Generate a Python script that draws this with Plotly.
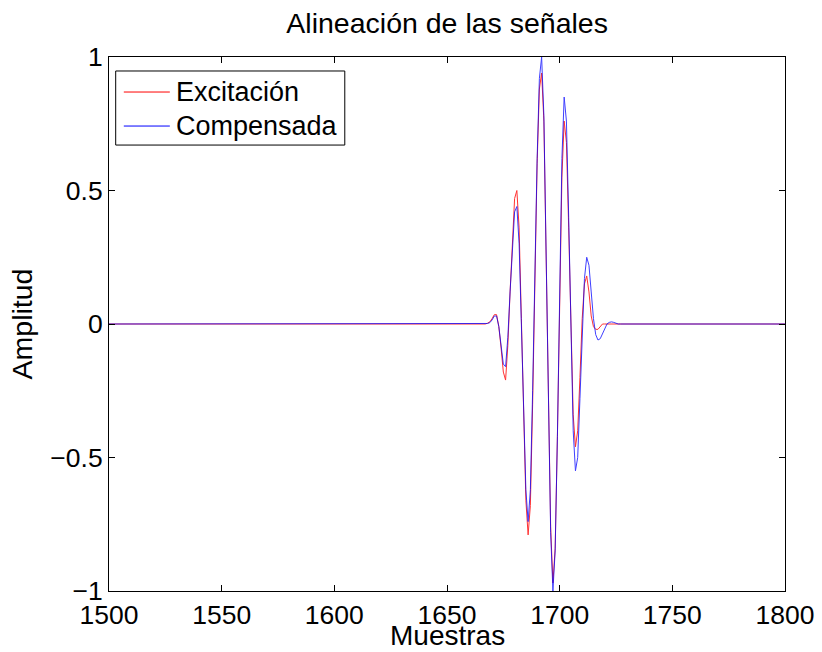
import plotly.graph_objects as go

# Sample indices (zero outside the active region)
x_exc = [1500] + list(range(1665, 1722)) + [1800]
y_exc = [0.0,
         0.0, 0.0, 0.0, 0.003, 0.008, 0.02, 0.035, 0.035, -0.01, -0.09,
         -0.18, -0.21, -0.08, 0.12, 0.32, 0.47, 0.50, 0.36, 0.02, -0.36,
         -0.66, -0.79, -0.68, -0.30, 0.18, 0.60, 0.88, 0.94, 0.76, 0.30,
         -0.27, -0.76, -0.97, -0.84, -0.42, 0.10, 0.55, 0.76, 0.68, 0.36,
         -0.04, -0.34, -0.46, -0.40, -0.20, 0.02, 0.15, 0.18, 0.12, 0.03,
         -0.01, -0.02, -0.02, -0.01, 0.0, 0.0, 0.0,
         0.0]

x_comp = [1500] + list(range(1665, 1730)) + [1800]
y_comp = [0.0,
          0.0, 0.0, 0.0, 0.002, 0.005, 0.015, 0.03, 0.03, -0.01, -0.08,
          -0.15, -0.16, -0.05, 0.12, 0.30, 0.42, 0.44, 0.30, 0.00, -0.35,
          -0.62, -0.74, -0.62, -0.25, 0.20, 0.62, 0.92, 1.00, 0.78, 0.30,
          -0.28, -0.78, -1.00, -0.85, -0.42, 0.15, 0.62, 0.85, 0.76, 0.40,
          -0.05, -0.40, -0.55, -0.50, -0.28, -0.02, 0.17, 0.25, 0.22, 0.12,
          0.02, -0.04, -0.06, -0.055, -0.035, -0.015, 0.0, 0.006, 0.008, 0.006,
          0.003, 0.0, 0.0, 0.0, 0.0,
          0.0]

series_names = ["Excitación", "Compensada"]
series_colors = ["#ff0000", "#0000ff"]

x_ticks = [1500, 1550, 1600, 1650, 1700, 1750, 1800]
y_ticks = [-1, -0.5, 0, 0.5, 1]
y_tick_text = ["\u22121", "\u22120.5", "0", "0.5", "1"]

FONT = "Liberation Sans, Arial, sans-serif"

fig = go.Figure()
fig.add_trace(go.Scatter(x=x_exc, y=y_exc, mode="lines", name=series_names[0],
                         line=dict(color=series_colors[0], width=1), opacity=0.8))
fig.add_trace(go.Scatter(x=x_comp, y=y_comp, mode="lines", name=series_names[1],
                         line=dict(color=series_colors[1], width=1), opacity=0.75))

# MATLAB-style boxed legend drawn in the axes' paper frame
shapes = [dict(type="rect", xref="paper", yref="paper",
               x0=0.0099, x1=0.3488, y0=0.8351, y1=0.9738,
               line=dict(color="black", width=1), fillcolor="white", layer="above")]
annotations = []
for i, (nm, col) in enumerate(zip(series_names, series_colors)):
    yy = 0.9344 - i * 0.0637
    shapes.append(dict(type="line", xref="paper", yref="paper",
                       x0=0.0219, x1=0.0900, y0=yy, y1=yy,
                       line=dict(color=col, width=1), layer="above"))
    annotations.append(dict(text=nm, xref="paper", yref="paper", x=0.0960, y=yy,
                            xanchor="left", yanchor="middle", showarrow=False,
                            font=dict(size=27, color="black")))

# x-axis title placed just below the tick labels
annotations.append(dict(text="Muestras", xref="paper", yref="paper", x=0.5, y=-0.083,
                        xanchor="center", yanchor="middle", showarrow=False,
                        borderpad=0, font=dict(size=28, color="black")))

fig.update_layout(
    width=822, height=652,
    margin=dict(l=109, r=37, t=57, b=61),
    paper_bgcolor="white", plot_bgcolor="white",
    font=dict(family=FONT, size=27, color="black"),
    title=dict(text="Alineación de las señales", x=0.544, xanchor="center",
               y=0.964, yanchor="middle", font=dict(size=28.5)),
    showlegend=False,
    shapes=shapes,
    annotations=annotations,
)
fig.update_xaxes(range=[1500, 1800], tickvals=x_ticks, ticks="inside", ticklen=6,
                 tickcolor="black", showline=True, linecolor="black", linewidth=1,
                 mirror="ticks", showgrid=False, zeroline=False, automargin=False,
                 tickfont=dict(size=26.5))
fig.update_yaxes(range=[-1, 1], tickvals=y_ticks, ticktext=y_tick_text,
                 ticks="inside", ticklen=6,
                 tickcolor="black", showline=True, linecolor="black", linewidth=1,
                 mirror="ticks", showgrid=False, zeroline=False, automargin=False,
                 title=dict(text="Amplitud", standoff=9, font=dict(size=28.5)),
                 tickfont=dict(size=26.5))

fig.write_html("out.html")
